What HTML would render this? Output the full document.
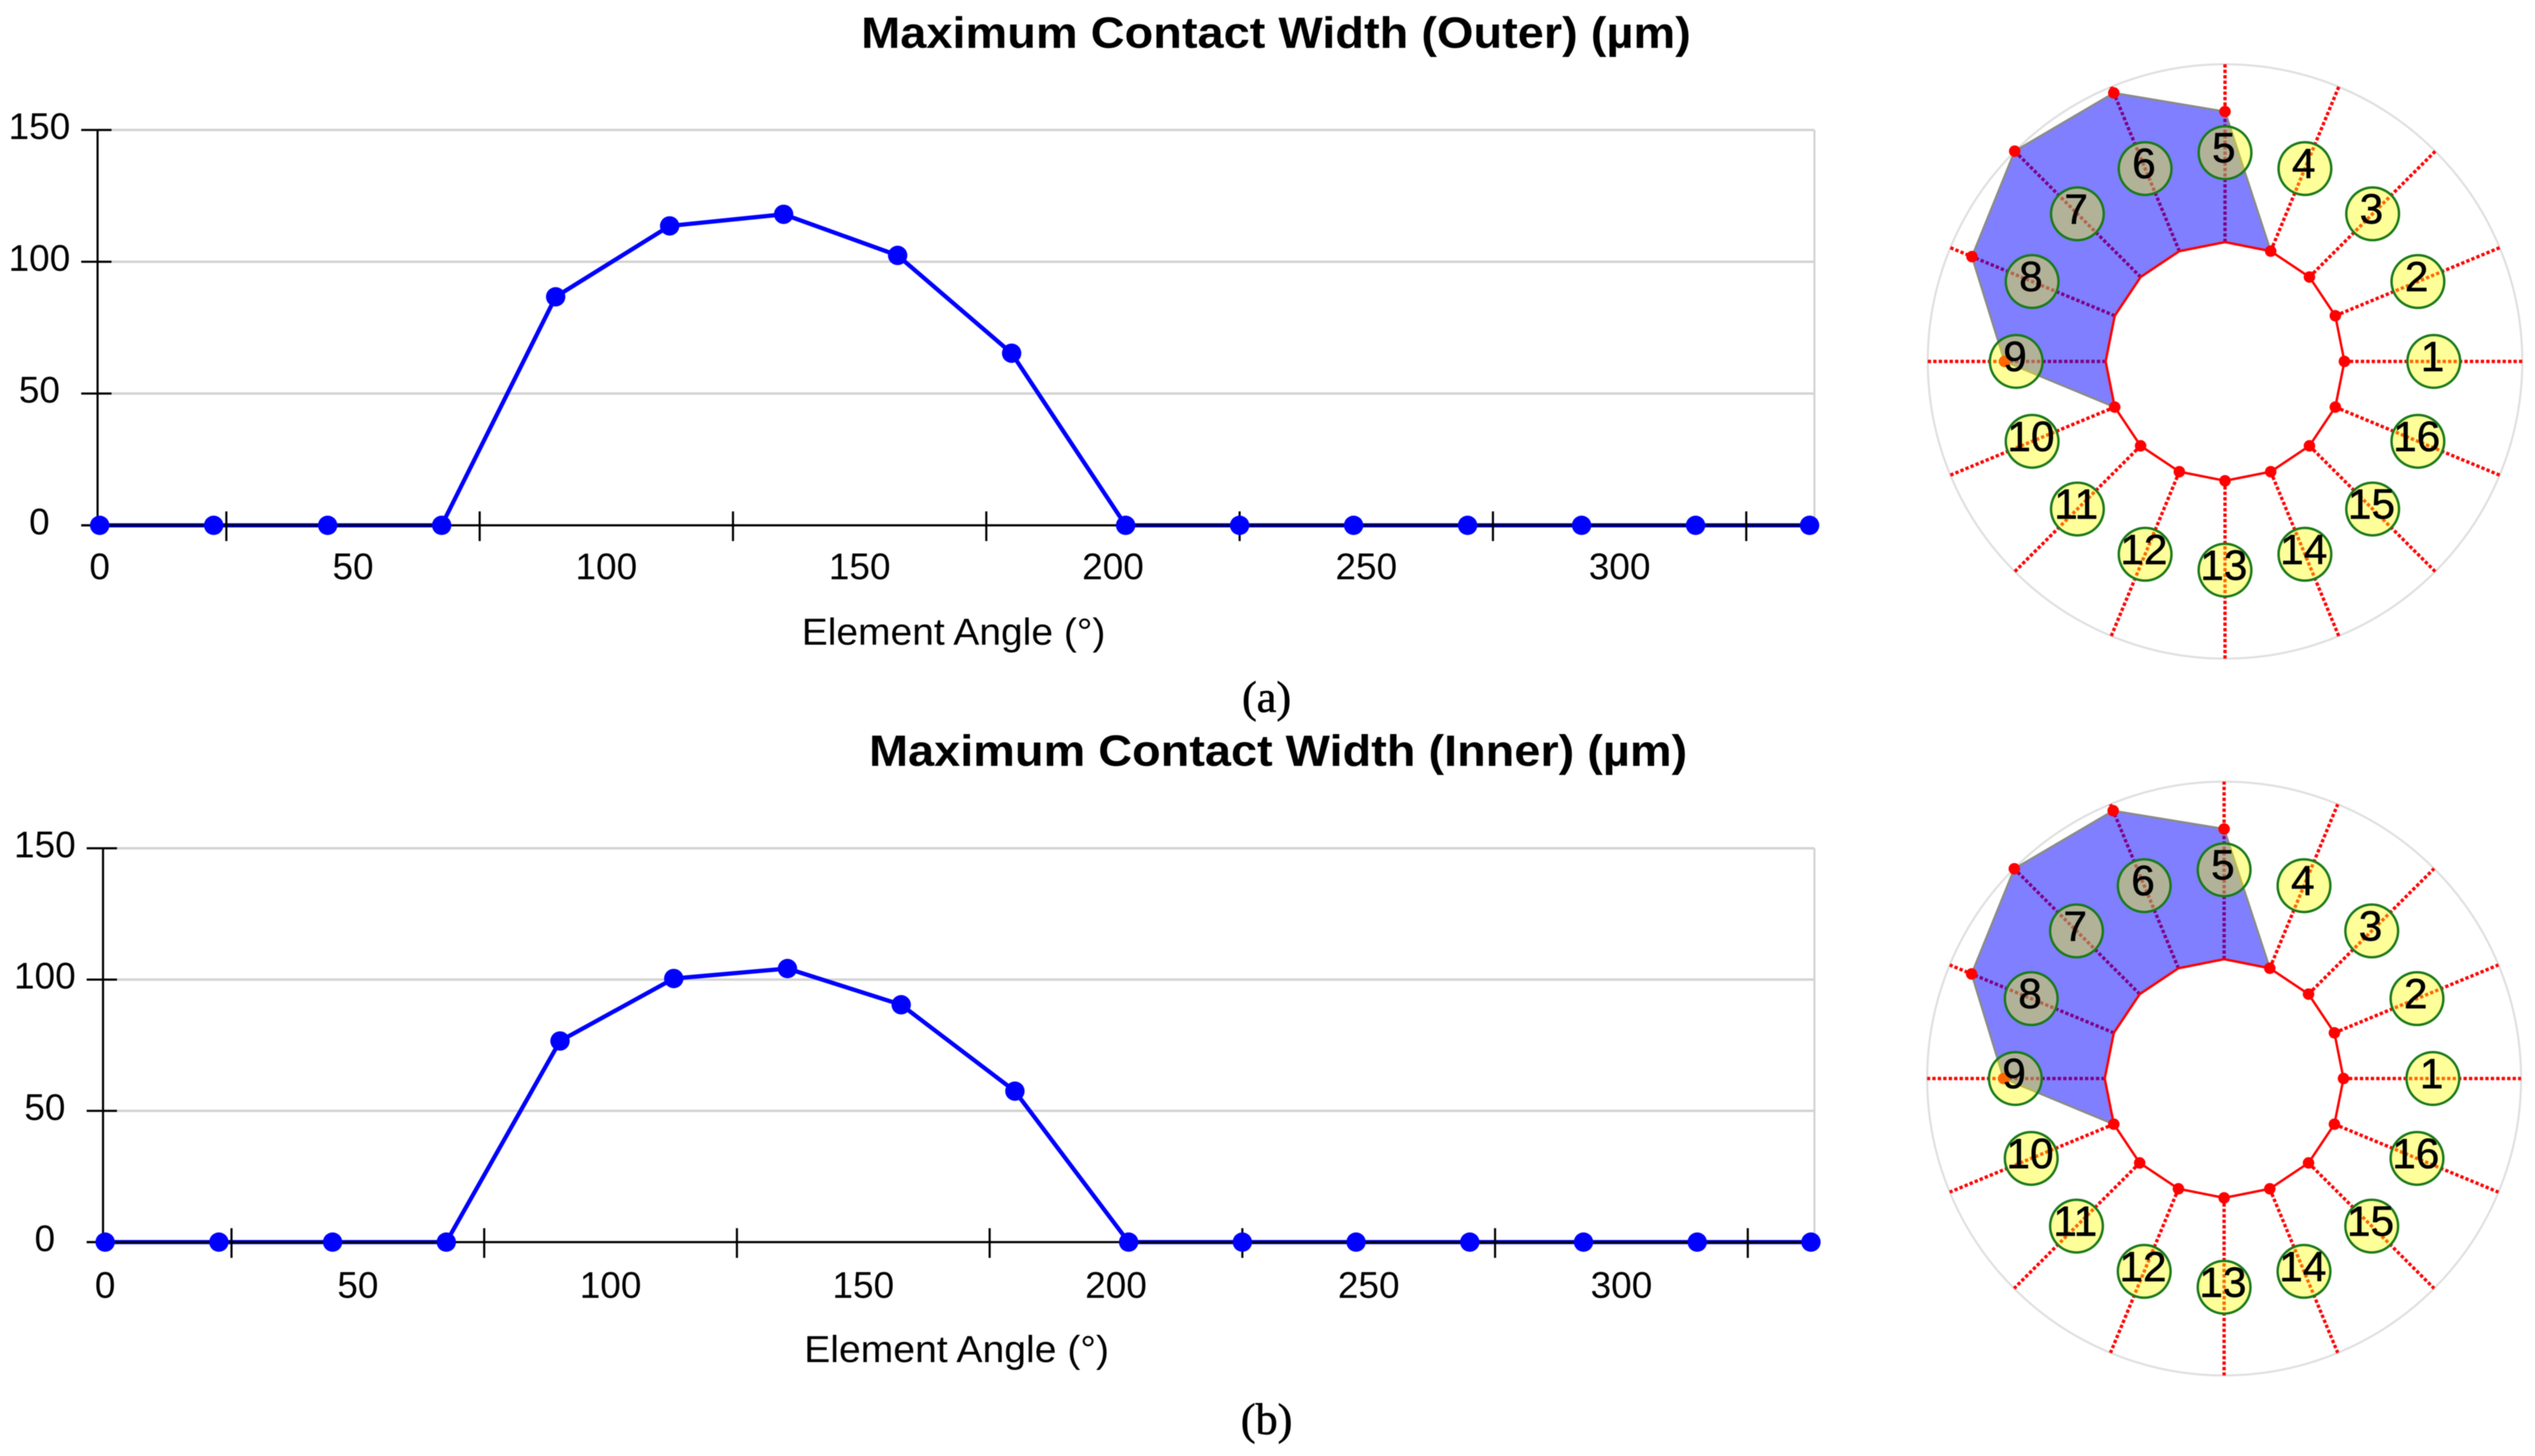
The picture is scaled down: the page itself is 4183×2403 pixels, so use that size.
<!DOCTYPE html>
<html lang="en">
<head>
<meta charset="utf-8">
<title>Maximum Contact Width charts</title>
<style>
html,body{margin:0;padding:0;background:#fff;}
svg{display:block;filter:blur(0.7px);}
text{font-family:"Liberation Sans",sans-serif;fill:#000;}
.cap{font-family:"Liberation Serif",serif;font-size:73px;}
.ttl{font-weight:bold;font-size:72px;}
</style>
</head>
<body>
<svg id="figure" xmlns="http://www.w3.org/2000/svg" width="4183" height="2403" viewBox="0 0 4183 2403">
<rect x="0" y="0" width="4183" height="2403" fill="#fff"/>
<text class="ttl" x="1421" y="79" textLength="1369" lengthAdjust="spacingAndGlyphs">Maximum Contact Width (Outer) (µm)</text>
<text class="ttl" x="1434" y="1264" textLength="1350" lengthAdjust="spacingAndGlyphs">Maximum Contact Width (Inner) (µm)</text>
<text x="1323" y="1064" font-size="62" textLength="501" lengthAdjust="spacingAndGlyphs">Element Angle (°)</text>
<text x="1327" y="2248" font-size="62" textLength="503" lengthAdjust="spacingAndGlyphs">Element Angle (°)</text>
<text class="cap" x="2090" y="1175" text-anchor="middle" stroke="#000" stroke-width="1">(a)</text>
<text class="cap" x="2090" y="2367" text-anchor="middle" stroke="#000" stroke-width="1">(b)</text>
<g id="layer"></g>
</svg>
<script>
// Chart data
const elementAngles = [0, 22.5, 45, 67.5, 90, 112.5, 135, 157.5, 180, 202.5, 225, 247.5, 270, 292.5, 315, 337.5];
const outerWidths = [0, 0, 0, 0, 86.7, 113.6, 118, 102.4, 65.3, 0, 0, 0, 0, 0, 0, 0];
const innerWidths = [0, 0, 0, 0, 76.6, 100.4, 104.2, 90.4, 57.5, 0, 0, 0, 0, 0, 0, 0];
const yTickValues = [0, 50, 100, 150];
const xLabelValues = [0, 50, 100, 150, 200, 250, 300];
const xTickValues = [25, 75, 125, 175, 225, 275, 325];
// Polar diagram data (element number, contact width drawn on the ring)
const elementNumbers = [1, 2, 3, 4, 5, 6, 7, 8, 9, 10, 11, 12, 13, 14, 15, 16];
const polarWidthsA = [0, 0, 0, 0, 86.5, 113.5, 118, 102.4, 67, 0, 0, 0, 0, 0, 0, 0];
const polarWidthsB = [0, 0, 0, 0, 86.3, 113, 117.5, 102, 67, 0, 0, 0, 0, 0, 0, 0];

const NS = 'http://www.w3.org/2000/svg';
const layer = document.getElementById('layer');

function add(parent, tag, props, txt) {
  const el = document.createElementNS(NS, tag);
  for (const k in props) el.setAttribute(k, props[k]);
  if (txt !== undefined) el.textContent = txt;
  parent.appendChild(el);
  return el;
}

function drawChart(key, values, frame) {
  const sx = v => frame.x0 + frame.kx * v;
  const sy = v => frame.y0 - frame.ky * v;
  const g = add(layer, 'g', {});
  
  

  // grid
  yTickValues.forEach(v => {
    const l = add(g, 'line', {x1: frame.axisX, x2: frame.right, y1: sy(v), y2: sy(v), stroke: '#d3d3d3', 'stroke-width': 4});
    
    
  });
  const edge = add(g, 'line', {x1: frame.right, x2: frame.right, y1: sy(150), y2: sy(0), stroke: '#d3d3d3', 'stroke-width': 3.5});
  
  

  // series line
  const pts = values.map((v, i) => sx(elementAngles[i]) + ',' + sy(v)).join(' ');
  const line = add(g, 'polyline', {points: pts, fill: 'none', stroke: '#0000ff', 'stroke-width': 7, 'stroke-linejoin': 'round'});
  
  

  // axes
  const yAxis = add(g, 'line', {x1: frame.axisX, x2: frame.axisX, y1: sy(150), y2: sy(0), stroke: '#000', 'stroke-width': 3.5});
  
  
  const xAxis = add(g, 'line', {x1: frame.axisX - 27, x2: frame.right, y1: sy(0), y2: sy(0), stroke: '#000', 'stroke-width': 3.5});
  
  

  yTickValues.forEach(v => {
    const t = add(g, 'line', {x1: frame.axisX - 27, x2: frame.axisX + 23, y1: sy(v), y2: sy(v), stroke: '#000', 'stroke-width': 3.5});
    
    
    const lab = add(g, 'text', {x: frame.axisX - 96, y: sy(v) + 15, 'font-size': 61, 'text-anchor': 'middle'}, String(v));
    
    
  });
  xTickValues.forEach(v => {
    const t = add(g, 'line', {x1: sx(v), x2: sx(v), y1: sy(0) - 23, y2: sy(0) + 26, stroke: '#000', 'stroke-width': 3.5});
    
    
  });
  xLabelValues.forEach(v => {
    const lab = add(g, 'text', {x: sx(v), y: frame.labelY, 'font-size': 61, 'text-anchor': 'middle'}, String(v));
    
    
  });

  // points
  values.forEach((v, i) => {
    const c = add(g, 'circle', {cx: sx(elementAngles[i]), cy: sy(v), r: 16, fill: '#0000ff'});
    
    
  });
}

function drawPolar(key, widths, frame) {
  const g = add(layer, 'g', {});
  
  
  const rOf = w => frame.rInner + frame.k * w;
  const px = (a, r) => frame.cx + r * Math.cos(a * Math.PI / 180);
  const py = (a, r) => frame.cy - r * Math.sin(a * Math.PI / 180);

  const ring = add(g, 'circle', {cx: frame.cx, cy: frame.cy, r: frame.rOuter, fill: 'none', stroke: '#e0e0e0', 'stroke-width': 3.5});
  
  

  elementAngles.forEach((a, i) => {
    const s = add(g, 'line', {x1: px(a, frame.rInner), y1: py(a, frame.rInner), x2: px(a, frame.rOuter), y2: py(a, frame.rOuter), stroke: '#ff0000', 'stroke-width': 5.5, 'stroke-dasharray': '5.5 3.5'});
    
    
  });

  // contact region: outer boundary for elements 4..10, back along inner ring
  const outerPts = widths.map((w, i) => ({a: elementAngles[i], r: rOf(w), w: w}));
  const activeIdx = widths.map((w, i) => w > 0 ? i : -1).filter(i => i >= 0);
  const first = activeIdx[0] - 1;
  const last = activeIdx[activeIdx.length - 1] + 1;
  const outerPath = [];
  for (let i = first; i <= last; i++) outerPath.push(px(outerPts[i].a, outerPts[i].r) + ',' + py(outerPts[i].a, outerPts[i].r));
  const innerPath = [];
  for (let i = last; i >= first; i--) innerPath.push(px(elementAngles[i], frame.rInner) + ',' + py(elementAngles[i], frame.rInner));
  const region = add(g, 'polygon', {points: outerPath.concat(innerPath).join(' '), fill: 'rgba(0,0,255,0.5)', stroke: 'none'});
  
  
  const regionEdge = add(g, 'polyline', {points: outerPath.join(' '), fill: 'none', stroke: '#8a8a8a', 'stroke-width': 3.5});
  
  

  // inner ring
  const innerAll = elementAngles.map(a => px(a, frame.rInner) + ',' + py(a, frame.rInner)).join(' ');
  const inner = add(g, 'polygon', {points: innerAll, fill: '#fff', stroke: '#ff0000', 'stroke-width': 4});
  
  

  // vertex markers
  outerPts.forEach((p, i) => {
    const m = add(g, 'circle', {cx: px(p.a, p.r), cy: py(p.a, p.r), r: 9.5, fill: '#ff0000'});
    
    
  });

  // element number badges
  elementAngles.forEach((a, i) => {
    const bx = px(a, frame.rLabel);
    const by = py(a, frame.rLabel);
    const c = add(g, 'circle', {cx: bx, cy: by, r: 43.5, fill: 'rgba(255,255,0,0.4)', stroke: '#1b7a1b', 'stroke-width': 4});
    
    
    const t = add(g, 'text', {x: bx - 2, y: by + 16, 'font-size': 70, 'text-anchor': 'middle', stroke: '#000', 'stroke-width': 0.8}, String(elementNumbers[i]));
    
    
  });
}

drawChart('outer', outerWidths, {x0: 164.5, kx: 8.36, y0: 867, ky: 4.35, axisX: 161, right: 2994, labelY: 956});
drawChart('inner', innerWidths, {x0: 173.5, kx: 8.34, y0: 2050, ky: 4.333, axisX: 170, right: 2994, labelY: 2142});
drawPolar('outer', polarWidthsA, {cx: 3671.5, cy: 596.5, rInner: 197, rOuter: 490.5, rLabel: 344.5, k: 2.49});
drawPolar('inner', polarWidthsB, {cx: 3670, cy: 1780, rInner: 197, rOuter: 490, rLabel: 344.5, k: 2.49});
</script>
</body>
</html>
